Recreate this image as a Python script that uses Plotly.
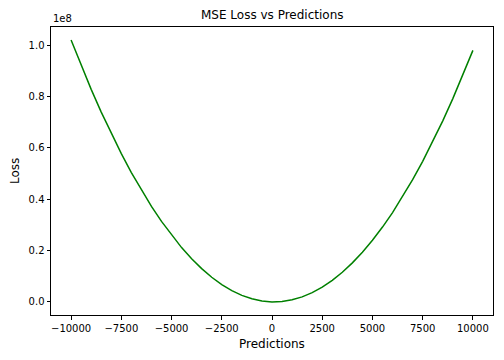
import plotly.graph_objects as go

predictions = [-10000, -9500, -9000, -8500, -8000, -7500, -7000, -6500, -6000, -5500,
               -5000, -4500, -4000, -3500, -3000, -2500, -2000, -1500, -1000, -500,
               0, 500, 1000, 1500, 2000, 2500, 3000, 3500, 4000, 4500,
               5000, 5500, 6000, 6500, 7000, 7500, 8000, 8500, 9000, 9500, 10000]
loss = [102010000, 92160000, 82810000, 73960000, 65610000, 57760000, 50410000,
        43560000, 37210000, 31360000, 26010000, 21160000, 16810000, 12960000,
        9610000, 6760000, 4410000, 2560000, 1210000, 360000, 10000, 160000,
        810000, 1960000, 3610000, 5760000, 8410000, 11560000, 15210000,
        19360000, 24010000, 29160000, 34810000, 40960000, 47610000, 54760000,
        62410000, 70560000, 79210000, 88360000, 98010000]

x_ticks = [-10000, -7500, -5000, -2500, 0, 2500, 5000, 7500, 10000]
x_labels = ["\u221210000", "\u22127500", "\u22125000", "\u22122500", "0",
            "2500", "5000", "7500", "10000"]
y_ticks = [0, 2e7, 4e7, 6e7, 8e7, 1e8]
y_labels = ["0.0", "0.2", "0.4", "0.6", "0.8", "1.0"]

font = "DejaVu Sans"

fig = go.Figure()
fig.add_trace(go.Scatter(
    x=predictions, y=loss, mode="lines",
    line=dict(color="green", width=1.5),
    showlegend=False,
))

axis_style = dict(
    showline=True, linecolor="black", linewidth=1, mirror=True,
    showgrid=False, zeroline=False, automargin=False,
    ticks="outside", ticklen=3.5, tickwidth=1, tickcolor="black",
    tickfont=dict(family=font, size=10, color="black"),
)

fig.update_layout(
    width=504, height=360,
    plot_bgcolor="white", paper_bgcolor="white",
    margin=dict(l=51, r=11, t=27, b=45, autoexpand=False),
    xaxis=dict(range=[-11000, 11000], tickvals=x_ticks, ticktext=x_labels, **axis_style),
    yaxis=dict(range=[-0.051e8, 1.0711e8], tickvals=y_ticks, ticktext=y_labels, **axis_style),
    annotations=[
        dict(text="MSE Loss vs Predictions", x=0.5, y=1, xref="paper", yref="paper",
             xanchor="center", yanchor="bottom", showarrow=False, yshift=3,
             font=dict(family=font, size=12, color="black")),
        dict(text="1e8", x=0, y=1, xref="paper", yref="paper",
             xanchor="left", yanchor="bottom", showarrow=False, yshift=1,
             font=dict(family=font, size=10, color="black")),
        dict(text="Predictions", x=0.5, y=0, xref="paper", yref="paper",
             xanchor="center", yanchor="top", showarrow=False, yshift=-20,
             font=dict(family=font, size=12, color="black")),
        dict(text="Loss", x=0, y=0.5, xref="paper", yref="paper", textangle=-90,
             xanchor="right", yanchor="middle", showarrow=False, xshift=-27,
             font=dict(family=font, size=12, color="black")),
    ],
)

# drop the browser's default body margin so the figure sits at the page corner
fig.write_html("out.html", config={"displayModeBar": False},
               post_script="document.body.style.margin='0';")
